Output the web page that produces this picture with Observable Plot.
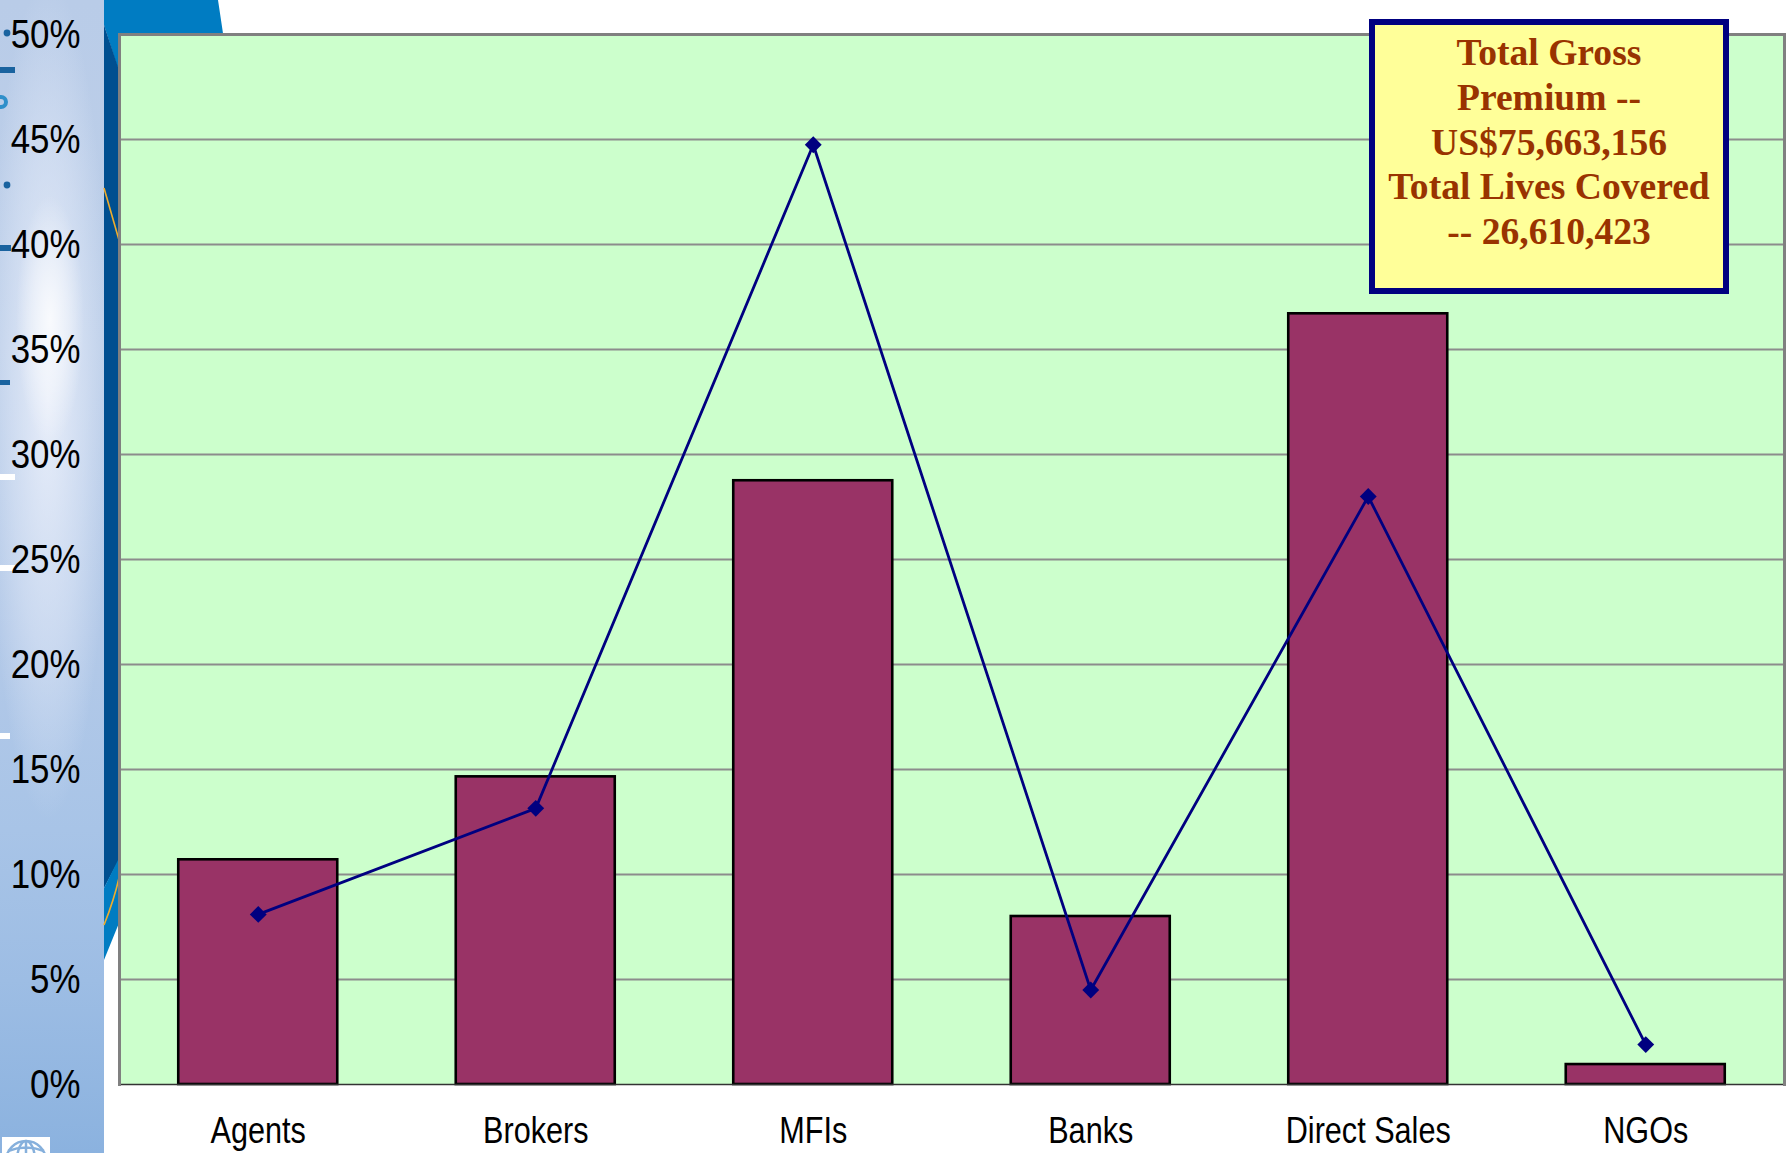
<!DOCTYPE html>
<html>
<head>
<meta charset="utf-8">
<script src="https://cdn.jsdelivr.net/npm/d3@7"></script>
<script src="https://cdn.jsdelivr.net/npm/@observablehq/plot@0.6"></script>
<style>
  html, body { margin: 0; padding: 0; background: #fff; overflow: hidden; }
  #page { position: relative; width: 1787px; height: 1153px; overflow: hidden; }
  #strip {
    position: absolute; left: 0; top: 0; width: 104px; height: 1153px;
    background:
      radial-gradient(ellipse 34px 125px at 50px 320px, rgba(255,255,255,.8) 0%, rgba(255,255,255,.4) 55%, rgba(255,255,255,0) 100%),
      radial-gradient(ellipse 62px 420px at 48px 400px, rgba(238,242,252,.85) 0%, rgba(225,233,248,.5) 60%, rgba(225,233,248,0) 100%),
      linear-gradient(180deg, #b9cce8 0%, #bdcfe9 30%, #b3c9e8 55%, #a8c4e7 72%, #9dbde4 85%, #8bb2df 100%);
  }
  #decor { position: absolute; left: 0; top: 0; }
  #chart { position: absolute; left: 0; top: 0; }
  #chart svg { background: transparent; display: block; }
  #note {
    position: absolute; left: 1369px; top: 19px; width: 360px; height: 275px;
    box-sizing: border-box; border: 6px solid #000080; background: #FFFF99;
    color: #993300; font: bold 37.6px/44.8px "Liberation Serif", serif;
    text-align: center; padding-top: 6px; white-space: nowrap;
  }
</style>
</head>
<body>
<div id="page">
  <div id="strip"></div>
  <svg id="decor" width="1787" height="1153">
    <!-- slide artwork behind the chart -->
    <polygon points="104,0 218,0 224,40 119,40 119,72 104,25" fill="#007cc2"/>
    <polygon points="104,25 119,70 119,860 104,888" fill="#004f90"/>
    <polygon points="104,888 119,858 119,923 104,960" fill="#007cc2"/>
    <path d="M104,188 L119,240" stroke="#f0ad2c" stroke-width="1.6" fill="none"/>
    <path d="M104,925 Q114,900 119,878" stroke="#f0ad2c" stroke-width="1.6" fill="none"/>
    <circle cx="7" cy="33" r="3.4" fill="#1a639f"/>
    <rect x="0" y="67" width="15" height="6" fill="#1a639f"/>
    <circle cx="1" cy="102" r="5" fill="none" stroke="#2f8fca" stroke-width="4"/>
    <circle cx="7" cy="185" r="3.4" fill="#1a639f"/>
    <rect x="0" y="245" width="11" height="6" fill="#1a639f"/>
    <rect x="0" y="380" width="10" height="5" fill="#1a639f"/>
    <rect x="0" y="474" width="15" height="6" fill="#fff"/>
    <rect x="0" y="565" width="15" height="6" fill="#fff"/>
    <rect x="0" y="733" width="10" height="6" fill="#fff"/>
    <rect x="2" y="1137" width="48" height="16" fill="#fff"/>
    <g fill="none" stroke="#86b0dc" stroke-width="2.5">
      <circle cx="26" cy="1161" r="20"/>
      <ellipse cx="26" cy="1161" rx="9" ry="20"/>
      <path d="M26,1141 V1153 M8,1151 Q26,1144 44,1151"/>
    </g>
  </svg>
  <div id="chart"></div>
  <div id="note">Total Gross<br>Premium --<br>US$75,663,156<br>Total Lives Covered<br>-- 26,610,423</div>
</div>
<script>
// Distribution channels, share of premium (bars) and share of lives covered (line), in percent
const channels = ["Agents", "Brokers", "MFIs", "Banks", "Direct Sales", "NGOs"];
const premiumShare = [10.7, 14.65, 28.75, 8.0, 36.7, 0.95];
const livesShare = [8.1, 13.15, 44.75, 4.5, 28.0, 1.9];
const yTicks = [0, 5, 10, 15, 20, 25, 30, 35, 40, 45, 50];

const rows = channels.map((channel, i) => ({
  channel, premium: premiumShare[i], lives: livesShare[i]
}));
const labelFont = '"Liberation Sans", Arial, sans-serif';

const plot = Plot.plot({
  width: 1787,
  height: 1153,
  marginLeft: 119,
  marginRight: 3,
  marginTop: 34,
  marginBottom: 69,
  style: {background: "transparent"},
  x: {domain: channels, paddingInner: 0.427, paddingOuter: 0.2135, round: false, label: null},
  y: {domain: [0, 50], label: null},
  marks: [
    Plot.frame({fill: "#CCFFCC", stroke: null}),
    Plot.ruleY(yTicks.slice(1, -1), {stroke: "#8c8c8c", strokeWidth: 2}),
    Plot.barY(rows, {x: "channel", y: "premium", fill: "#993366", stroke: "#000", strokeWidth: 2.6}),
    Plot.ruleY([0], {stroke: "#333", strokeWidth: 1.5}),
    Plot.line(rows, {x: "channel", y: "lives", stroke: "#000080", strokeWidth: 2.8, curve: "linear"}),
    Plot.dot(rows, {x: "channel", y: "lives", symbol: "diamond2", r: 7.6, fill: "#000080", stroke: null}),
    Plot.frame({anchor: "top", stroke: "#808080", strokeWidth: 3}),
    Plot.frame({anchor: "left", stroke: "#808080", strokeWidth: 3}),
    Plot.frame({anchor: "right", stroke: "#808080", strokeWidth: 3}),
    Plot.axisY({
      ticks: yTicks, tickSize: 0, tickPadding: 39, tickFormat: d => d + "%",
      fontSize: 41, fontFamily: labelFont, fontWeight: 300, fill: "#000", label: null
    }),
    Plot.axisX({
      tickSize: 0, tickPadding: 33, fontSize: 36, fontFamily: labelFont, fontWeight: 300, fill: "#000", label: null
    })
  ]
});
document.getElementById("chart").appendChild(plot);

// No condensed face is available, so axis labels are squeezed to Arial Narrow proportions
plot.querySelectorAll('[aria-label^="y-axis"] text, [aria-label^="x-axis"] text').forEach(t => {
  t.setAttribute("textLength", (t.getComputedTextLength() * 0.85).toFixed(1));
  t.setAttribute("lengthAdjust", "spacingAndGlyphs");
});
</script>
</body>
</html>
